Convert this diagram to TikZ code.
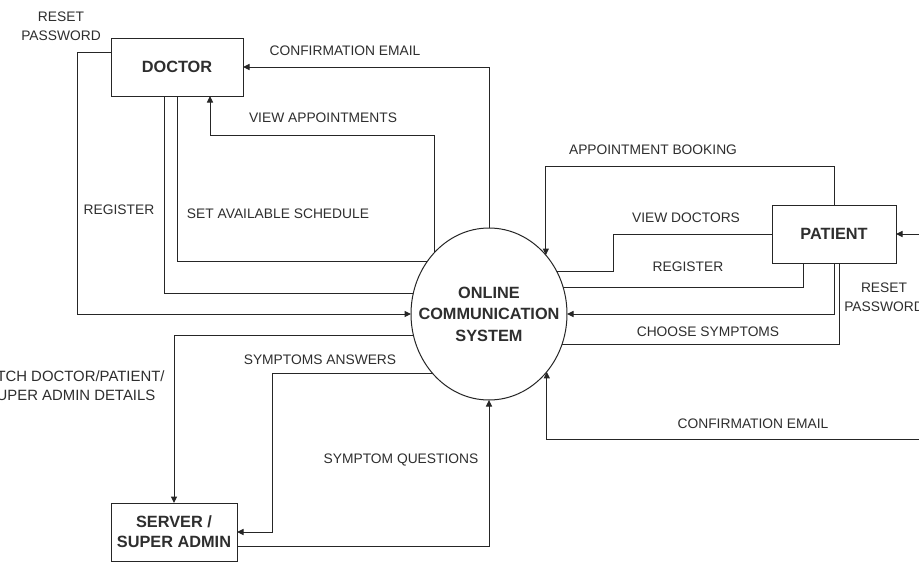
\documentclass[tikz,border=0pt]{standalone}
\usepackage{fontspec}
\setmainfont{Liberation Sans}
\usetikzlibrary{arrows.meta,shapes.geometric}
\definecolor{ink}{HTML}{262626}
\definecolor{txt}{HTML}{2E2E2E}
\begin{document}
\begin{tikzpicture}[x=1pt,y=-1pt,
  flow/.style={draw=ink,line width=1pt},
  tip/.style={-{Triangle[length=6.5pt,width=6pt]}},
  entity/.style={draw=ink,line width=1pt,fill=white,inner sep=0pt,outer sep=0pt},
  bigtext/.style={text=txt,font=\fontsize{16.3}{20.5}\selectfont\bfseries,align=center,inner sep=0pt},
  lbl/.style={text=txt,font=\fontsize{13.8}{19}\selectfont,align=center,inner sep=0pt}]
\useasboundingbox (0,0) rectangle (919,563);
\clip (0,0) rectangle (919,563);
\fill[white] (0,0) rectangle (919,563);

% entities and the central process
\node[entity,minimum width=132pt,minimum height=58pt] (doc) at (177,67) {};
\node[bigtext] (doctxt) at (doc) {DOCTOR};
\node[entity,minimum width=124pt,minimum height=58pt] (pat) at (834,234) {};
\node[bigtext] (pattxt) at (pat) {PATIENT};
\node[entity,minimum width=126pt,minimum height=58pt] (srv) at (174,532) {};
\node[bigtext,font=\fontsize{16.3}{20}\selectfont\bfseries] (srvtxt) at (srv) {SERVER /\\SUPER ADMIN};
\node[entity,ellipse,minimum width=156pt,minimum height=172pt] (sys) at (489,314) {};
\node[bigtext,font=\fontsize{16.3}{21.5}\selectfont\bfseries] (systxt) at (sys) {ONLINE\\COMMUNICATION\\SYSTEM};

% loose ends beyond the right margin
\coordinate (rin) at (930,234);
\coordinate (rout) at (930,439);

% doctor flows
\draw[flow,tip] (doc.west |- 0,52) -- ++(-34,0) |- (sys.180);
\draw[flow] (doc.south -| 164,0) |- (sys.165.98);
\draw[flow] (doc.south) |- (sys.140.06);
\draw[flow,tip] (sys.132.05) -- (sys.132.05 |- 0,135) -| (doc.south -| 210,0);
\draw[flow,tip] (sys.north) |- (doc.east);

% patient flows
\draw[flow,tip] (pat.north) -- ++(0,-39) -| (sys.46.91);
\draw[flow] (pat.west) -- ++(-159,0) |- (sys.32.48);
\draw[flow] (pat.south -| 803,0) |- (sys.20.79);
\draw[flow,tip] (pat.south) |- (sys.east);
\draw[flow] (pat.south -| 839,0) |- (sys.-23.84);
\draw[flow,tip] (rin) -- (pat.east);
\draw[flow,tip] (rout) -| (sys.-45.84);

% server flows
\draw[flow,tip] (sys.196.27) -| (srv.north);
\draw[flow,tip] (sys.227.97) -- (sys.227.97 -| 272,0) |- (srv.east);
\draw[flow,tip] (srv.east |- 0,546) -| (sys.south);

% flow labels
\node[lbl] (l1) at (61,26.5) {RESET\\PASSWORD};
\node[lbl] (l2) at (345,51) {CONFIRMATION EMAIL};
\node[lbl] (l3) at (323,118) {VIEW APPOINTMENTS};
\node[lbl] (l4) at (119,210) {REGISTER};
\node[lbl] (l5) at (278,214) {SET AVAILABLE SCHEDULE};
\node[lbl] (l6) at (320,360) {SYMPTOMS ANSWERS};
\node[lbl,font=\fontsize{14.9}{19}\selectfont] (l7) at (71,385.5) {FETCH DOCTOR/PATIENT/\\SUPER ADMIN DETAILS};
\node[lbl] (l8) at (401,460) {SYMPTOM QUESTIONS};
\node[lbl] (l9) at (653,150) {APPOINTMENT BOOKING};
\node[lbl] (l10) at (686,218) {VIEW DOCTORS};
\node[lbl] (l11) at (688,267) {REGISTER};
\node[lbl] (l12) at (708,332) {CHOOSE SYMPTOMS};
\node[lbl] (l13) at (753,424) {CONFIRMATION EMAIL};
\node[lbl] (l14) at (884,297.5) {RESET\\PASSWORD};
\end{tikzpicture}
\end{document}
